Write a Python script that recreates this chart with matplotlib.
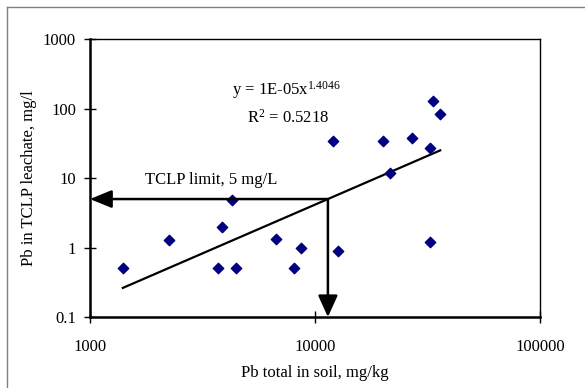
import numpy as np
import matplotlib
matplotlib.use("Agg")
import matplotlib.pyplot as plt
from matplotlib.lines import Line2D

# Pb total in soil (mg/kg) and Pb in TCLP leachate (mg/l)
pb_soil = [1400, 2250, 3700, 3850, 4270, 4450, 6700, 8050, 8650, 12600,
           32400, 12000, 20000, 27000, 32400, 33400, 36000, 21500]
pb_tclp = [0.5, 1.3, 0.5, 2.0, 4.8, 0.5, 1.35, 0.5, 1.0, 0.9,
           1.2, 34, 34, 38, 27, 130, 85, 12]

# power trendline y = a * x^b (as given on chart)
fit_a = 1e-05
fit_b = 1.4046
tclp_limit = 5

plt.rcParams['font.family'] = ['Liberation Serif', 'DejaVu Serif']
plt.rcParams['font.size'] = 12
plt.rcParams['mathtext.fontset'] = 'custom'
plt.rcParams['mathtext.rm'] = 'Liberation Serif'
plt.rcParams['mathtext.it'] = 'Liberation Serif'
plt.rcParams['mathtext.default'] = 'regular'

fig = plt.figure(figsize=(5.85, 3.88), dpi=100)
ax = fig.add_axes([0.1538, 0.183, 0.7693, 0.7157])

ax.scatter(pb_soil, pb_tclp, marker='D', s=28, color='#000080', zorder=3)

xs = np.sort(np.array(pb_soil, dtype=float))
ax.plot(xs, fit_a * xs ** fit_b, color='black', lw=1.6, zorder=2)

# where the trendline crosses the TCLP limit
x_lim = (tclp_limit / fit_a) ** (1 / fit_b)
ax.annotate('', xy=(1000, tclp_limit), xytext=(x_lim, tclp_limit),
            arrowprops=dict(arrowstyle='-|>,head_length=1.1,head_width=0.45',
                            color='black', lw=1.8, shrinkA=0, shrinkB=0),
            annotation_clip=False, zorder=4)
ax.annotate('', xy=(x_lim, 0.1), xytext=(x_lim, tclp_limit),
            arrowprops=dict(arrowstyle='-|>,head_length=1.1,head_width=0.5',
                            color='black', lw=1.8, shrinkA=0, shrinkB=0),
            annotation_clip=False, zorder=4)

ax.set_xscale('log')
ax.set_yscale('log')
ax.set_xlim(1000, 100000)
ax.set_ylim(0.1, 1000)
ax.set_xticks([1000, 10000, 100000])
ax.set_xticklabels(['1000', '10000', '100000'])
ax.set_yticks([0.1, 1, 10, 100, 1000])
ax.set_yticklabels(['0.1', '1', '10', '100', '1000'])
ax.minorticks_off()
ax.tick_params(direction='inout', length=8, width=1, pad=6)
ax.tick_params(axis='x', pad=12)

for side in ['left', 'bottom']:
    ax.spines[side].set_linewidth(1.8)
for side in ['top', 'right']:
    ax.spines[side].set_linewidth(1.0)

ax.set_xlabel('Pb total in soil, mg/kg', labelpad=7)
ax.set_ylabel('Pb in TCLP leachate, mg/l', labelpad=4)

ax.text(0.315, 0.817, 'y = 1E-05x$^{1.4046}$', transform=ax.transAxes,
        va='center', ha='left')
ax.text(0.348, 0.719, 'R$^{2}$ = 0.5218', transform=ax.transAxes,
        va='center', ha='left')
ax.text(0.122, 0.493, 'TCLP limit, 5 mg/L', transform=ax.transAxes,
        va='center', ha='left')

# chart-area border (only top and left edges show in the picture)
fig.add_artist(Line2D([0.012, 1.0], [0.981, 0.981], transform=fig.transFigure,
                      color='#808080', lw=1.0))
fig.add_artist(Line2D([0.012, 0.012], [0.0, 0.981], transform=fig.transFigure,
                      color='#808080', lw=1.0))

fig.savefig('out.png', dpi=100)
